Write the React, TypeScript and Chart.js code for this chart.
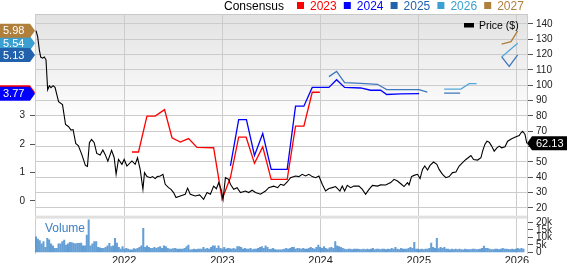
import React, { useEffect, useRef } from "react";
import { Chart, registerables } from "chart.js";

Chart.register(...registerables);

const FONT = "'Liberation Sans', Arial, Helvetica, sans-serif";

// ---- tick labels ----
const yearTicks = [2022, 2023, 2024, 2025, 2026];
const priceTicks = [20, 30, 40, 50, 60, 70, 80, 90, 100, 110, 120, 130, 140];
const epsTicks = [0, 1, 2, 3];
const volumeTicks = [0, 5, 10, 15, 20];

// ---- price (decimal years, $) ----
const priceDates = [
  2021.102, 2021.119, 2021.136, 2021.15, 2021.17, 2021.187, 2021.204, 2021.221, 2021.238, 2021.255,
  2021.276, 2021.296, 2021.332, 2021.372, 2021.403, 2021.432, 2021.459, 2021.48, 2021.507, 2021.534,
  2021.568, 2021.605, 2021.626, 2021.646, 2021.668, 2021.694, 2021.721, 2021.755, 2021.783, 2021.806,
  2021.834, 2021.872, 2021.898, 2021.918, 2021.942, 2021.977, 2022.0, 2022.028, 2022.079, 2022.112,
  2022.136, 2022.163, 2022.191, 2022.207, 2022.232, 2022.265, 2022.289, 2022.316, 2022.337, 2022.367,
  2022.395, 2022.418, 2022.452, 2022.477, 2022.503, 2022.528, 2022.571, 2022.622, 2022.646, 2022.673,
  2022.724, 2022.768, 2022.809, 2022.844, 2022.878, 2022.911, 2022.939, 2022.962, 2022.987, 2023.007,
  2023.031, 2023.064, 2023.082, 2023.115, 2023.15, 2023.184, 2023.235, 2023.268, 2023.303, 2023.337,
  2023.388, 2023.439, 2023.472, 2023.523, 2023.564, 2023.592, 2023.626, 2023.66, 2023.694, 2023.745,
  2023.779, 2023.813, 2023.847, 2023.881, 2023.915, 2023.949, 2023.983, 2024.017, 2024.051, 2024.085,
  2024.119, 2024.153, 2024.197, 2024.221, 2024.245, 2024.272, 2024.306, 2024.34, 2024.391, 2024.425,
  2024.459, 2024.493, 2024.528, 2024.579, 2024.612, 2024.663, 2024.714, 2024.748, 2024.783, 2024.823,
  2024.85, 2024.885, 2024.901, 2024.926, 2024.952, 2024.987, 2025.013, 2025.038, 2025.061, 2025.089,
  2025.115, 2025.15, 2025.184, 2025.207, 2025.242, 2025.276, 2025.309, 2025.344, 2025.378, 2025.411,
  2025.446, 2025.48, 2025.503, 2025.531, 2025.558, 2025.599, 2025.633, 2025.65, 2025.673, 2025.694,
  2025.717, 2025.742, 2025.768, 2025.796, 2025.819, 2025.844, 2025.878, 2025.905, 2025.946, 2025.99,
  2026.023, 2026.041, 2026.058, 2026.082, 2026.1,
];
const priceValues = [
  135.6, 131.7, 123.1, 118.4, 117.7, 118.4, 116.6, 97.1, 99.7, 98.4,
  99.7, 98.7, 89.3, 87.4, 74.4, 73.1, 70.8, 71.1, 62.0, 60.5,
  54.9, 47.7, 47.1, 62.5, 64.6, 62.7, 55.5, 54.5, 57.8, 54.9,
  50.5, 57.5, 52.9, 41.9, 51.6, 48.4, 51.6, 47.3, 50.6, 48.4,
  52.7, 45.1, 32.1, 43.0, 40.4, 39.7, 40.4, 39.1, 40.4, 40.8,
  41.9, 35.4, 33.2, 32.1, 30.0, 26.7, 27.8, 28.9, 32.9, 28.9,
  27.8, 28.5, 25.6, 30.0, 28.9, 34.2, 32.5, 36.4, 32.1, 25.6,
  39.7, 38.6, 35.4, 32.1, 33.2, 30.0, 31.0, 30.0, 31.5, 30.0,
  28.9, 31.0, 33.2, 34.2, 33.2, 35.4, 34.7, 36.9, 39.7, 40.8,
  40.4, 41.9, 40.8, 41.9, 40.4, 39.7, 40.8, 35.4, 31.0, 32.6,
  33.2, 33.9, 31.0, 34.2, 31.0, 34.7, 33.2, 34.2, 34.2, 32.1,
  28.9, 32.1, 34.7, 34.2, 35.0, 34.9, 36.5, 38.6, 37.5, 35.4,
  33.9, 36.5, 35.0, 40.4, 41.2, 41.9, 39.1, 45.1, 47.3, 44.7,
  47.7, 49.9, 48.4, 45.1, 41.9, 39.7, 40.4, 43.0, 43.4, 47.3,
  49.5, 51.6, 52.7, 54.2, 51.6, 51.2, 52.7, 57.0, 61.4, 63.5,
  62.9, 60.3, 57.0, 59.2, 60.3, 59.2, 59.9, 63.5, 65.1, 66.4,
  67.2, 69.0, 70.0, 67.9, 62.13,
];

// ---- consensus EPS estimates ($), null = no estimate ----
const eps2023Dates = [2022.079, 2022.146, 2022.232, 2022.316, 2022.411, 2022.487, 2022.571, 2022.656, 2022.742, 2022.911, 2022.997, 2023.082, 2023.166, 2023.242, 2023.327, 2023.411, 2023.497, 2023.66, 2023.745, 2023.83, 2023.915, 2023.993];
const eps2023Values = [1.72, 1.72, 2.98, 2.98, 3.21, 2.22, 2.07, 2.19, 1.88, 1.87, 0.06, 0.82, 2.24, 2.24, 1.32, 1.9, 0.76, 0.76, 2.63, 2.63, 3.82, 3.82];

const eps2024Dates = [2023.082, 2023.166, 2023.245, 2023.327, 2023.411, 2023.497, 2023.66, 2023.745, 2023.83, 2023.915, 2024.085, 2024.163, 2024.245, 2024.408, 2024.51, 2024.612, 2024.673, 2024.816, 2025.003];
const eps2024Values = [1.23, 2.86, 2.86, 1.6, 2.37, 1.11, 1.11, 3.33, 3.33, 3.99, 3.99, 4.26, 3.99, 3.97, 3.89, 3.89, 3.74, 3.76, 3.77];

const eps2025Dates = [2024.085, 2024.163, 2024.245, 2024.408, 2024.579, 2024.673, 2025.003, 2025.087, 2025.17, 2025.258, 2025.421, 2025.6, 2025.844, 2025.921, 2026.007];
const eps2025Values = [4.37, 4.55, 4.16, 4.13, 4.1, 3.91, 3.91, 3.82, null, 3.79, 3.79, null, 5.06, 4.73, 5.13];

const eps2026Dates = [2025.258, 2025.429, 2025.513, 2025.589, 2025.7, 2025.844, 2026.007];
const eps2026Values = [3.93, 3.93, 4.12, 4.12, null, 5.06, 5.54];

const eps2027Dates = [2025.844, 2025.939, 2026.007];
const eps2027Values = [5.51, 5.6, 5.98];

// ---- weekly volume (thousands) ----
const volumeStart = 2021.102;
const weeksPerYear = 52.18;
const volumeValues = [
  10.4, 8.9, 7.8, 5.6, 7.1, 3.3, 9.3, 8.4, 5.6, 4.4,
  2.7, 2.7, 5.6, 5.6, 7.1, 8.2, 4.9, 5.6, 6.7, 6.5,
  6.0, 5.6, 6.0, 6.0, 6.2, 4.4, 4.4, 11.5, 21.7, 4.4, 5.6, 7.1, 7.1, 3.3, 3.0,
  2.7, 2.7, 3.3, 4.4, 6.0, 3.8, 4.4, 9.3, 6.2, 3.3, 2.2, 3.8, 2.2, 2.7, 2.2, 1.6, 1.6, 2.5,
  2.2, 2.7, 3.3, 4.4, 16.0, 3.3, 4.4, 3.3, 2.7, 2.7, 3.3, 2.7, 3.3, 3.8, 2.7, 4.4, 3.8, 2.7, 2.2, 2.2, 2.5,
  2.7, 2.2, 2.2, 2.2, 2.2, 2.7, 3.8, 4.9, 1.6, 1.8, 2.2, 1.8, 2.2,
  2.2, 2.2, 3.3, 2.2, 2.7, 2.2, 3.3, 4.4, 4.4, 2.7, 4.4, 2.7, 2.2, 3.3, 2.2, 2.7, 2.5,
  2.2, 2.7, 2.2, 3.8, 3.8, 3.3, 2.2, 2.7, 2.2, 2.2, 2.7, 1.8, 2.2, 2.2, 2.7, 3.3, 3.8, 2.7, 4.4, 3.3, 2.0,
  2.2, 2.7, 1.8, 1.6, 1.6, 1.6, 1.8, 2.2, 2.7, 2.2, 2.7, 3.3, 3.3, 2.2, 2.7, 2.5,
  2.2, 2.7, 2.2, 2.2, 2.7, 3.3, 2.7, 2.2, 3.3, 4.9, 3.3, 2.7, 3.8, 2.7, 2.2, 3.0,
  3.3, 2.7, 7.1, 4.4, 3.8, 3.3, 2.7, 2.2, 1.8, 2.2, 2.2, 1.8, 2.2, 2.2, 2.2, 2.0,
  1.8, 2.2, 1.8, 2.2, 1.8, 2.2, 2.7, 1.8, 2.2, 2.2, 1.8, 2.2, 2.2, 1.8, 2.2, 2.0,
  2.7, 2.2, 3.3, 2.2,
  1.8, 2.7, 2.2, 2.2, 2.2, 2.7, 3.3, 2.7, 6.7, 2.2, 2.2, 1.8, 2.2, 1.8, 2.2, 2.2, 2.7, 6.2, 3.3, 2.7, 9.3, 2.5,
  3.3, 2.7, 3.3, 2.2, 2.2, 1.6, 2.2, 1.8, 2.2, 1.8, 2.2, 1.8, 1.6, 2.2, 1.8, 1.8, 1.8, 2.2, 2.2, 1.8, 2.0,
  2.2, 2.7, 4.2, 2.7, 2.7, 2.2, 1.8, 1.8, 2.2, 2.2, 1.8, 2.2, 2.7, 2.2, 2.2, 2.0,
  1.8, 2.2, 1.8, 2.2, 2.7, 2.2, 2.7, 2.2,
];

const lastPrice = 62.13;
const consensusLabel = "Consensus";
const consensusYears = ["2023", "2024", "2025", "2026", "2027"];
const consensusColors = ["#ff0000", "#0000ff", "#2262ad", "#3a9fd1", "#b07f3c"];
const priceLabel = "Price ($)";
const volumeLabel = "Volume";

const pts = (dates: number[], values: (number | null)[]) => dates.map((x, i) => ({ x, y: values[i] }));
const lastVal = (values: (number | null)[]) => {
  for (let i = values.length - 1; i >= 0; i--) if (values[i] != null) return values[i] as number;
  return 0;
};

const overlayPlugin = {
  id: "zacksOverlay",
  beforeDraw(chart: any) {
    const { ctx, chartArea: a } = chart;
    ctx.save();
    const gEnd = a.top + (a.bottom - a.top) * 0.45;
    const g = ctx.createLinearGradient(0, a.top, 0, gEnd);
    g.addColorStop(0, "#e2e2e2");
    g.addColorStop(1, "#ffffff");
    ctx.fillStyle = g;
    ctx.fillRect(a.left, a.top, a.right - a.left, gEnd - a.top);
    ctx.restore();
  },
  beforeDatasetsDraw(chart: any) {
    const { ctx, chartArea: a, scales } = chart;
    const sepY = scales.yPrice.bottom;
    ctx.save();
    ctx.fillStyle = "#e0e0e0";
    ctx.fillRect(a.left, sepY - 0.5, a.right - a.left, 3);
    ctx.strokeStyle = "#c8c8c8";
    ctx.lineWidth = 1;
    ctx.beginPath();
    ctx.moveTo(a.left, a.top + 0.5);
    ctx.lineTo(a.right, a.top + 0.5);
    ctx.stroke();
    ctx.fillStyle = "#3d7fc1";
    ctx.font = `12px ${FONT}`;
    ctx.textBaseline = "alphabetic";
    ctx.textAlign = "left";
    ctx.fillText(volumeLabel, a.left + 10, sepY + 15.5);
    ctx.restore();
  },
  afterDraw(chart: any) {
    const { ctx, chartArea: a, scales, width } = chart;
    ctx.save();
    ctx.textAlign = "left";
    // top legend
    ctx.font = `12px ${FONT}`;
    ctx.textBaseline = "alphabetic";
    ctx.fillStyle = "#000";
    ctx.fillText(consensusLabel, 224, 9.5);
    consensusYears.forEach((yr, i) => {
      const tx = 310 + i * 46.8;
      ctx.fillStyle = consensusColors[i];
      ctx.fillRect(tx - 13, 2, 7, 7);
      ctx.fillText(yr, tx, 9.5);
    });
    // price legend
    ctx.fillStyle = "#000";
    ctx.fillRect(464, 23, 10, 4.5);
    ctx.font = `10.5px ${FONT}`;
    ctx.fillText(priceLabel, 479, 29);

    // left flags (EPS)
    const flagOrder = [0, 1, 3, 2, 4];
    const series = [eps2023Values, eps2024Values, eps2025Values, eps2026Values, eps2027Values];
    ctx.font = `11px ${FONT}`;
    ctx.textBaseline = "middle";
    flagOrder.forEach((si) => {
      const v = lastVal(series[si]);
      const y = scales.yEPS.getPixelForValue(v);
      const tip = a.left;
      ctx.beginPath();
      ctx.moveTo(0, y - 7);
      ctx.lineTo(tip - 5, y - 7);
      ctx.lineTo(tip, y);
      ctx.lineTo(tip - 5, y + 7);
      ctx.lineTo(0, y + 7);
      ctx.closePath();
      ctx.fillStyle = consensusColors[si];
      ctx.fill();
      ctx.fillStyle = "#fff";
      ctx.fillText(v.toFixed(2), 3, y + 0.5);
    });

    // right price flag
    const py = scales.yPrice.getPixelForValue(lastPrice);
    const rx = a.right;
    ctx.beginPath();
    ctx.moveTo(rx, py);
    ctx.lineTo(rx + 5, py - 7);
    ctx.lineTo(width - 1, py - 7);
    ctx.lineTo(width - 1, py + 7);
    ctx.lineTo(rx + 5, py + 7);
    ctx.closePath();
    ctx.fillStyle = "#000";
    ctx.fill();
    ctx.fillStyle = "#fff";
    ctx.fillText(lastPrice.toFixed(2), rx + 9, py + 0.5);
    ctx.restore();
  },
};

export default function App() {
  const ref = useRef<HTMLCanvasElement>(null);
  useEffect(() => {
    const canvas = ref.current;
    if (!canvas) return;
    const lineDs = (label: string, dates: number[], values: (number | null)[], color: string, width = 1.3) => ({
      type: "line" as const,
      label,
      data: pts(dates, values),
      yAxisID: "yEPS",
      borderColor: color,
      borderWidth: width,
      pointRadius: 0,
      tension: 0,
      spanGaps: false,
      fill: false,
    });
    const chart = new Chart(canvas, {
      type: "line",
      data: {
        datasets: [
          {
            type: "line",
            label: "Price",
            data: pts(priceDates, priceValues),
            yAxisID: "yPrice",
            borderColor: "#000",
            borderWidth: 1.1,
            pointRadius: 0,
            tension: 0,
            fill: false,
          },
          lineDs("2024", eps2024Dates, eps2024Values, consensusColors[1]),
          lineDs("2023", eps2023Dates, eps2023Values, consensusColors[0]),
          lineDs("2025", eps2025Dates, eps2025Values, "#3f78bd"),
          lineDs("2026", eps2026Dates, eps2026Values, "#52a8d8"),
          lineDs("2027", eps2027Dates, eps2027Values, consensusColors[4]),
          {
            type: "bar",
            label: "Volume",
            data: volumeValues.map((v, i) => ({ x: volumeStart + i / weeksPerYear, y: v })),
            yAxisID: "yVol",
            backgroundColor: "rgba(74,142,206,0.85)",
            borderWidth: 0,
            barThickness: 1.4,
          } as any,
        ],
      },
      options: {
        responsive: false,
        animation: false,
        devicePixelRatio: 1,
        layout: { padding: { top: 14, left: 0, right: 0, bottom: 0 } },
        plugins: { legend: { display: false }, tooltip: { enabled: false }, title: { display: false } },
        font: { family: FONT },
        scales: {
          x: {
            type: "linear",
            offset: false,
            min: 2021.092,
            max: 2026.102,
            afterBuildTicks: (s: any) => {
              s.ticks = yearTicks.map((v) => ({ value: v }));
            },
            afterFit: (s: any) => {
              s.height = 10;
            },
            grid: { color: "#cccccc", lineWidth: 1, drawTicks: false, offset: false },
            border: { display: false },
            ticks: {
              autoSkip: false,
              maxRotation: 0,
              padding: 1,
              color: "#222",
              font: { size: 11, family: FONT },
              callback: (v: any) => String(v),
            },
          },
          yEPS: {
            type: "linear",
            position: "left",
            min: -1.83,
            max: 6.57,
            afterBuildTicks: (s: any) => {
              s.ticks = epsTicks.map((v) => ({ value: v }));
            },
            afterFit: (s: any) => {
              s.width = 35;
            },
            grid: { drawOnChartArea: false, drawTicks: true, tickLength: 5, tickColor: "#555" },
            border: { display: true, color: "#cccccc" },
            ticks: { autoSkip: false, padding: 5, color: "#222", font: { size: 10, family: FONT } },
          },
          yPrice: {
            type: "linear",
            position: "right",
            stack: "right",
            stackWeight: 203,
            min: 14.6,
            max: 146.5,
            afterBuildTicks: (s: any) => {
              s.ticks = priceTicks.map((v) => ({ value: v }));
            },
            afterFit: (s: any) => {
              s.width = 41;
            },
            grid: { color: "#cccccc", lineWidth: 1, drawTicks: true, tickLength: 6, tickColor: "#555" },
            border: { display: true, color: "#cccccc" },
            ticks: { autoSkip: false, padding: 3, color: "#222", font: { size: 10, family: FONT } },
          },
          yVol: {
            type: "linear",
            position: "right",
            stack: "right",
            stackWeight: 37,
            min: -0.47,
            max: 24.2,
            afterBuildTicks: (s: any) => {
              s.ticks = volumeTicks.map((v) => ({ value: v }));
            },
            afterFit: (s: any) => {
              s.width = 41;
            },
            grid: { drawOnChartArea: false, drawTicks: true, tickLength: 6, tickColor: "#555" },
            border: { display: true, color: "#cccccc" },
            ticks: {
              autoSkip: false,
              padding: 3,
              color: "#222",
              font: { size: 10, family: FONT },
              callback: (v: any) => (v === 0 ? "0" : `${v}k`),
            },
          },
        },
      } as any,
      plugins: [overlayPlugin],
    });
    return () => chart.destroy();
  }, []);
  return (
    <div style={{ position: "fixed", left: 0, top: 0, width: 568, height: 264, background: "#fff" }}>
      <canvas ref={ref} width={568} height={264} style={{ display: "block", width: 568, height: 264 }} />
    </div>
  );
}
